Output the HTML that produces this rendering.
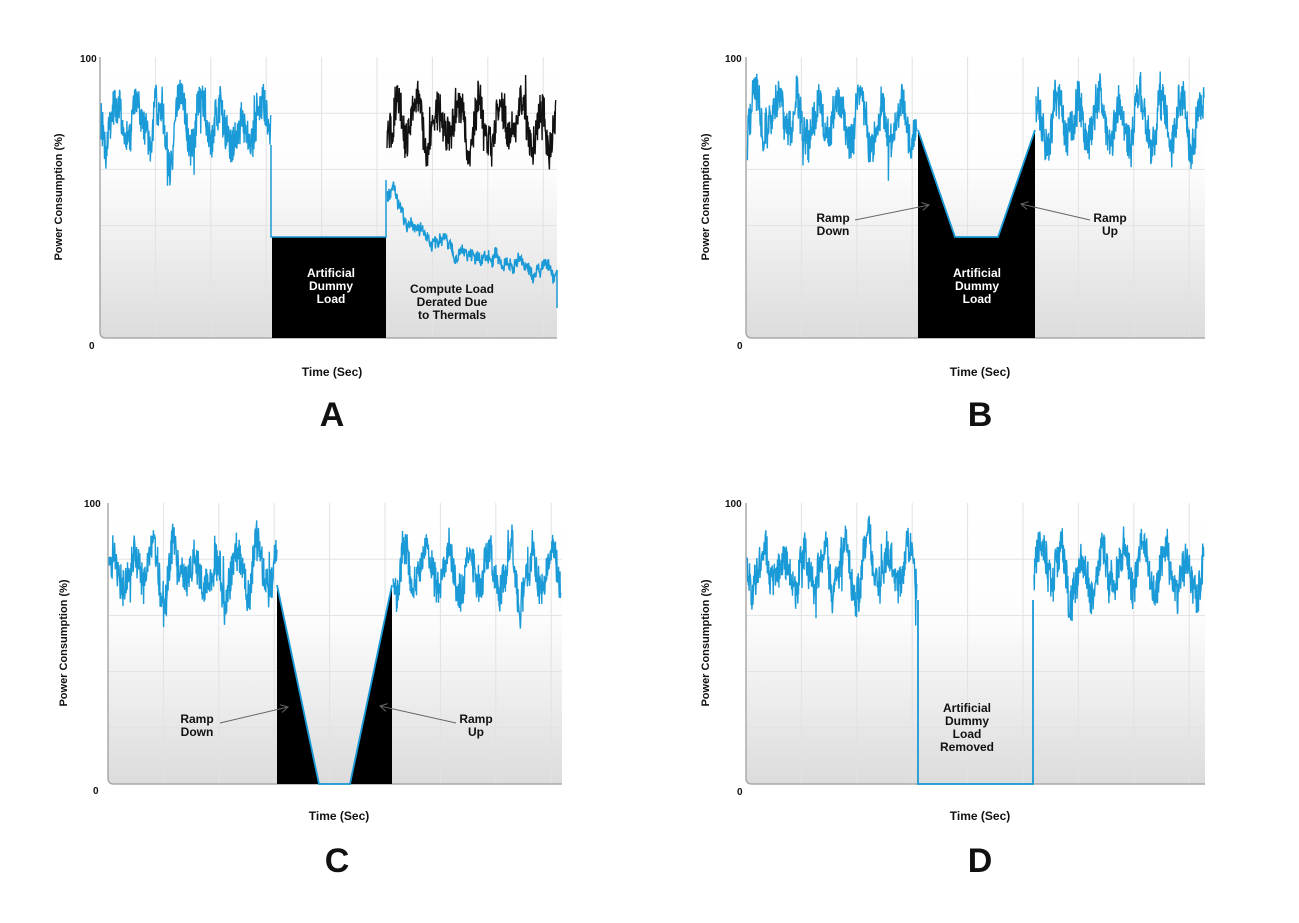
<!DOCTYPE html>
<html><head><meta charset="utf-8">
<style>
html,body{margin:0;padding:0;background:#fff;width:1299px;height:923px;overflow:hidden}
svg{display:block}
text{font-family:"Liberation Sans",sans-serif;font-weight:bold;fill:#111}
</style></head><body>
<svg id="s" width="1299" height="923" viewBox="0 0 1299 923" xmlns="http://www.w3.org/2000/svg">
<defs>
<linearGradient id="bg" x1="0" y1="0" x2="0" y2="1">
<stop offset="0" stop-color="#ffffff"/><stop offset="0.4" stop-color="#fdfdfd"/><stop offset="1" stop-color="#dcdcdc"/>
</linearGradient>
<marker id="ar" markerWidth="10" markerHeight="10" refX="8" refY="5" orient="auto" markerUnits="userSpaceOnUse">
<path d="M1,1 L8,5 L1,9" fill="none" stroke="#666" stroke-width="1"/>
</marker>
</defs>
<g id="g"></g>
<text x="80" y="62" font-size="10">100</text>
<text x="89" y="349" font-size="10">0</text>
<text x="332" y="376" font-size="12" text-anchor="middle">Time (Sec)</text>
<text x="332" y="426" font-size="34" text-anchor="middle">A</text>
<text transform="translate(62,197) rotate(-90)" font-size="11" text-anchor="middle">Power Consumption (%)</text>
<text x="331" y="277" font-size="12" text-anchor="middle" style="fill:#fff">Artificial</text>
<text x="331" y="290" font-size="12" text-anchor="middle" style="fill:#fff">Dummy</text>
<text x="331" y="303" font-size="12" text-anchor="middle" style="fill:#fff">Load</text>
<text x="452" y="293" font-size="12" text-anchor="middle">Compute Load</text>
<text x="452" y="306" font-size="12" text-anchor="middle">Derated Due</text>
<text x="452" y="319" font-size="12" text-anchor="middle">to Thermals</text>

<text x="725" y="62" font-size="10">100</text>
<text x="737" y="349" font-size="10">0</text>
<text x="980" y="376" font-size="12" text-anchor="middle">Time (Sec)</text>
<text x="980" y="426" font-size="34" text-anchor="middle">B</text>
<text transform="translate(709,197) rotate(-90)" font-size="11" text-anchor="middle">Power Consumption (%)</text>
<text x="977" y="277" font-size="12" text-anchor="middle" style="fill:#fff">Artificial</text>
<text x="977" y="290" font-size="12" text-anchor="middle" style="fill:#fff">Dummy</text>
<text x="977" y="303" font-size="12" text-anchor="middle" style="fill:#fff">Load</text>
<text x="833" y="222" font-size="12" text-anchor="middle">Ramp</text>
<text x="833" y="235" font-size="12" text-anchor="middle">Down</text>
<text x="1110" y="222" font-size="12" text-anchor="middle">Ramp</text>
<text x="1110" y="235" font-size="12" text-anchor="middle">Up</text>
<line x1="855" y1="220" x2="929" y2="205" stroke="#666" stroke-width="1" marker-end="url(#ar)"/>
<line x1="1090" y1="220" x2="1021" y2="204" stroke="#666" stroke-width="1" marker-end="url(#ar)"/>

<text x="84" y="507" font-size="10">100</text>
<text x="93" y="794" font-size="10">0</text>
<text x="339" y="820" font-size="12" text-anchor="middle">Time (Sec)</text>
<text x="337" y="872" font-size="34" text-anchor="middle">C</text>
<text transform="translate(67,643) rotate(-90)" font-size="11" text-anchor="middle">Power Consumption (%)</text>
<text x="197" y="723" font-size="12" text-anchor="middle">Ramp</text>
<text x="197" y="736" font-size="12" text-anchor="middle">Down</text>
<text x="476" y="723" font-size="12" text-anchor="middle">Ramp</text>
<text x="476" y="736" font-size="12" text-anchor="middle">Up</text>
<line x1="220" y1="723" x2="288" y2="707" stroke="#666" stroke-width="1" marker-end="url(#ar)"/>
<line x1="456" y1="723" x2="380" y2="706" stroke="#666" stroke-width="1" marker-end="url(#ar)"/>

<text x="725" y="507" font-size="10">100</text>
<text x="737" y="795" font-size="10">0</text>
<text x="980" y="820" font-size="12" text-anchor="middle">Time (Sec)</text>
<text x="980" y="872" font-size="34" text-anchor="middle">D</text>
<text transform="translate(709,643) rotate(-90)" font-size="11" text-anchor="middle">Power Consumption (%)</text>
<text x="967" y="712" font-size="12" text-anchor="middle">Artificial</text>
<text x="967" y="725" font-size="12" text-anchor="middle">Dummy</text>
<text x="967" y="738" font-size="12" text-anchor="middle">Load</text>
<text x="967" y="751" font-size="12" text-anchor="middle">Removed</text>
</svg>
<script>
(function(){
var g=document.getElementById('g');var NS='http://www.w3.org/2000/svg';
function el(t,a){var e=document.createElementNS(NS,t);for(var k in a)e.setAttribute(k,a[k]);g.appendChild(e);return e;}
var seed=12345;function r(){seed=(seed*16807)%2147483647;return seed/2147483647;}
function panel(x0,y0,w,h){
 el('path',{d:'M'+x0+','+y0+' H'+(x0+w)+' V'+(y0+h)+' H'+(x0+6)+' Q'+x0+','+(y0+h)+' '+x0+','+(y0+h-6)+' Z',fill:'url(#bg)',stroke:'none'});
 for(var i=1;i<9;i++){var x=x0+i*55.4;if(x<x0+w)el('line',{x1:x,y1:y0,x2:x,y2:y0+h,stroke:'#e2e2e2','stroke-width':1});}
 for(var j=1;j<5;j++){var y=y0+j*h/5;el('line',{x1:x0,y1:y,x2:x0+w,y2:y,stroke:'#e2e2e2','stroke-width':1});}
 el('path',{d:'M'+x0+','+y0+' V'+(y0+h-6)+' Q'+x0+','+(y0+h)+' '+(x0+6)+','+(y0+h)+' H'+(x0+w),fill:'none',stroke:'#aaa','stroke-width':1.5});
}
function noise(xa,xb,mean,amp,col){
 var d='',a=0,ph=r()*6;
 for(var x=xa;x<=xb;x+=0.35){
  a=a*0.9+(r()-0.5)*amp*0.25;
  var y=mean+amp*0.42*Math.sin(x/3.3+ph)+a+(r()-0.5)*amp*0.75;
  if(r()<0.02)y+=(r()-0.5)*amp*1.4;
  d+=(d?'L':'M')+x.toFixed(1)+','+y.toFixed(1);
 }
 el('path',{d:d,fill:'none',stroke:col,'stroke-width':1.4});
}
var B='#1a9ad6',A=48;
panel(100,57,457,281);
noise(101,271,124,A,B);
el('rect',{x:272,y:237,width:114,height:101,fill:'#000'});
el('path',{d:'M271,145 V237 H386 V180',fill:'none',stroke:B,'stroke-width':1.5});
noise(387,556,122,A,'#111');
(function(){var d='',a=0;for(var x=387;x<=556;x+=0.4){a=a*0.9+(r()-0.5)*6;var m=272-82*Math.exp(-(x-387)/55);var y=m+a+(r()-0.5)*12+4*Math.sin(x/4);d+=(d?'L':'M')+x.toFixed(1)+','+y.toFixed(1);}d+='L557,270 L557,308';el('path',{d:d,fill:'none',stroke:B,'stroke-width':1.5});})();
panel(746,57,459,281);
noise(747,917,124,A,B);
el('path',{d:'M918,130 L955,237 L998,237 L1035,130 V338 H918 Z',fill:'#000'});
el('path',{d:'M918,130 L955,237 L998,237 L1035,130',fill:'none',stroke:B,'stroke-width':1.8});
noise(1036,1204,124,A,B);
panel(108,503,454,281);
noise(109,277,570,A,B);
el('path',{d:'M277,585 L319,784 L350,784 L392,585 V784 H277 Z',fill:'#000'});
el('path',{d:'M277,585 L319,784 L350,784 L392,585',fill:'none',stroke:B,'stroke-width':1.8});
noise(393,561,570,A,B);
panel(746,503,459,281);
noise(747,917,570,A,B);
el('path',{d:'M918,600 V784 H1033 V600',fill:'none',stroke:B,'stroke-width':1.8});
noise(1034,1204,570,A,B);
})();
</script>
</body></html>
